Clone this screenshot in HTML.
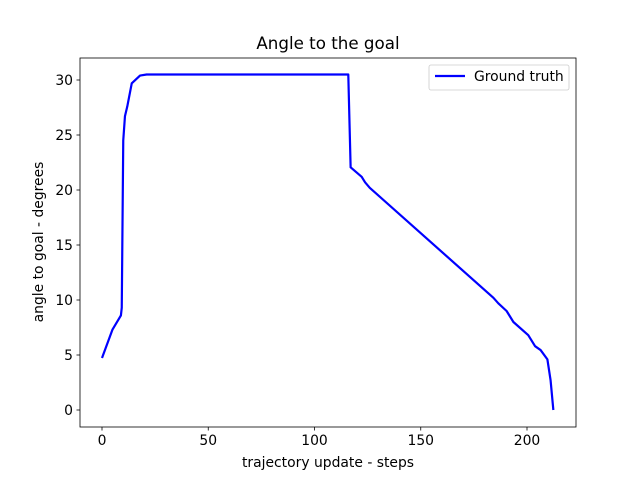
<!DOCTYPE html>
<html><head><meta charset="utf-8"><style>
body{margin:0;background:#fff;font-family:"DejaVu Sans","Liberation Sans",sans-serif;}
svg text{font-family:"DejaVu Sans","Liberation Sans",sans-serif;fill:#000;}
</style></head><body>
<svg id="chart" width="640" height="480" xmlns="http://www.w3.org/2000/svg">
<rect width="640" height="480" fill="#fff"/>
<text x="328" y="49" font-size="16.7" text-anchor="middle">Angle to the goal</text>
<g id="ticks"></g>
<polyline id="line" fill="none" stroke="#0000ff" stroke-width="2.2" stroke-linejoin="round"/>
<rect x="80" y="58" width="496" height="369" fill="none" stroke="#000" stroke-width="0.8"/>
<g>
<rect x="429" y="65" width="140" height="25" rx="2" fill="#fff" stroke="#ccc" stroke-width="0.8"/>
<line x1="435" y1="76" x2="465" y2="76" stroke="#0000ff" stroke-width="2.2"/>
<text x="474" y="81" font-size="13.9">Ground truth</text>
</g>
<text x="328" y="467" font-size="13.9" text-anchor="middle">trajectory update - steps</text>
<text transform="translate(43,242) rotate(-90)" font-size="13.9" text-anchor="middle">angle to goal - degrees</text>
</svg>
<script>
const xs=[0,4.9,8.9,9.3,10,10.8,11.9,14,17.9,21,115.9,117,122.2,123.8,126,184.2,186.5,190.4,193.6,200.6,203.8,206.4,209.6,211.1,212.4];
const ys=[4.73,7.3,8.6,9.3,24.5,26.7,27.6,29.7,30.4,30.5,30.5,22.06,21.2,20.7,20.2,10.2,9.7,9.0,8.0,6.8,5.8,5.45,4.6,2.7,0];
const xTicks=[0,50,100,150,200];
const yTicks=[0,5,10,15,20,25,30];
const X=v=>102+v*2.125, Y=v=>410-v*11;
document.getElementById('line').setAttribute('points',xs.map((x,i)=>X(x)+','+Y(ys[i])).join(' '));
const g=document.getElementById('ticks');const ns='http://www.w3.org/2000/svg';
xTicks.forEach(t=>{const l=document.createElementNS(ns,'line');l.setAttribute('x1',X(t));l.setAttribute('x2',X(t));l.setAttribute('y1',427);l.setAttribute('y2',430.5);l.setAttribute('stroke','#000');l.setAttribute('stroke-width','0.8');

g.appendChild(l);
const s=document.createElementNS(ns,'text');s.setAttribute('x',X(t));s.setAttribute('y',445);s.setAttribute('font-size','13.9');s.setAttribute('text-anchor','middle');s.textContent=t;

g.appendChild(s);});
yTicks.forEach(t=>{const l=document.createElementNS(ns,'line');l.setAttribute('x1',76.5);l.setAttribute('x2',80);l.setAttribute('y1',Y(t));l.setAttribute('y2',Y(t));l.setAttribute('stroke','#000');l.setAttribute('stroke-width','0.8');

g.appendChild(l);
const s=document.createElementNS(ns,'text');s.setAttribute('x',73);s.setAttribute('y',Y(t)+5);s.setAttribute('font-size','13.9');s.setAttribute('text-anchor','end');s.textContent=t;

g.appendChild(s);});
</script>
</body></html>
